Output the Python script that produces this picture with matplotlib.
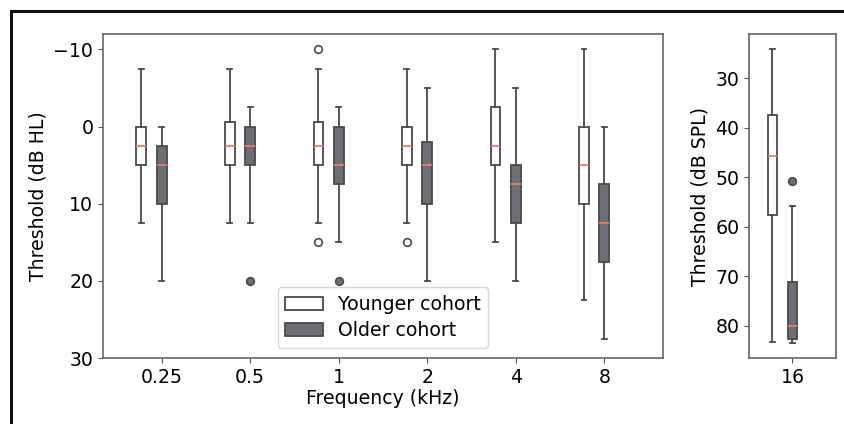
import matplotlib
matplotlib.use("Agg")
import matplotlib.pyplot as plt
from matplotlib.patches import Patch
from matplotlib.lines import Line2D

# thresholds: whislo, q1, med, q3, whishi, fliers
freqs = ["0.25", "0.5", "1", "2", "4", "8"]
young_lo = [12.5, 12.5, 12.5, 12.5, 15, 22.5]
young_q1 = [5, 5, 5, 5, 5, 10]
young_med = [2.5, 2.5, 2.5, 2.5, 2.5, 5]
young_q3 = [0, -0.6, -0.6, 0, -2.5, 0]
young_hi = [-7.5, -7.5, -7.5, -7.5, -10, -10]
young_fliers = [[], [], [-10, 15], [15], [], []]

old_lo = [20, 12.5, 15, 20, 20, 27.5]
old_q1 = [10, 5, 7.5, 10, 12.5, 17.5]
old_med = [5, 2.5, 5, 5, 7.5, 12.5]
old_q3 = [2.5, 0, 0, 2, 5, 7.5]
old_hi = [0, -2.5, -2.5, -5, -5, 0]
old_fliers = [[], [20], [20], [], [], []]

# 16 kHz in dB SPL
hf_label = "16"
hf_young = dict(whislo=24.1, q1=37.5, med=45.8, q3=57.7, whishi=83.3, fliers=[])
hf_old = dict(whislo=55.9, q1=71.2, med=80.0, q3=82.7, whishi=83.5, fliers=[50.7])

edge = "#4a4a4a"
grey = "#6e6f74"
med_col = "#f07a68"
offset = 0.23
width = 0.11
fs = 13.6


def stats(lo, q1, med, q3, hi, fl):
    return [dict(whislo=a, q1=b, med=c, q3=d, whishi=e, fliers=f)
            for a, b, c, d, e, f in zip(lo, q1, med, q3, hi, fl)]


def draw(ax, st, pos, fill, flier_face):
    ax.bxp(st, positions=pos, widths=width, patch_artist=True, manage_ticks=False,
           boxprops=dict(facecolor=fill, edgecolor=edge, linewidth=1.3),
           whiskerprops=dict(color=edge, linewidth=1.3),
           capprops=dict(color=edge, linewidth=1.3),
           medianprops=dict(color=med_col, linewidth=1.3),
           flierprops=dict(marker="o", markersize=5.5, markerfacecolor=flier_face,
                           markeredgecolor=edge, markeredgewidth=1.2))


plt.rcParams["font.family"] = "DejaVu Sans"
fig = plt.figure(figsize=(8.45, 4.24), dpi=100)

ax = fig.add_axes([103 / 845, 66 / 424, 560 / 845, 324 / 424])
ax2 = fig.add_axes([749 / 845, 66 / 424, 87 / 845, 324 / 424])

pos = list(range(1, len(freqs) + 1))
draw(ax, stats(young_lo, young_q1, young_med, young_q3, young_hi, young_fliers),
     [p - offset for p in pos], "white", "white")
draw(ax, stats(old_lo, old_q1, old_med, old_q3, old_hi, old_fliers),
     pos, grey, grey)
ax.set_xticks(pos)
ax.set_xticklabels(freqs)
ax.set_xlim(0.337, 6.663)
ax.set_ylim(30, -12)
ax.set_yticks([-10, 0, 10, 20, 30])
ax.set_xlabel("Frequency (kHz)", fontsize=fs, labelpad=2)
ax.set_ylabel("Threshold (dB HL)", fontsize=fs)

draw(ax2, [hf_young], [1 - offset], "white", "white")
draw(ax2, [hf_old], [1], grey, grey)
ax2.set_xticks([1])
ax2.set_xticklabels([hf_label])
ax2.set_xlim(0.5, 1.5)
ax2.set_ylim(86.5, 21.1)
ax2.set_yticks([30, 40, 50, 60, 70, 80])
ax2.set_ylabel("Threshold (dB SPL)", fontsize=fs)

for a in (ax, ax2):
    a.tick_params(labelsize=fs, color="#555555")
    for s in a.spines.values():
        s.set_color("#666666")
        s.set_linewidth(1.2)

handles = [Patch(facecolor="white", edgecolor=edge, linewidth=1.3, label="Younger cohort"),
           Patch(facecolor=grey, edgecolor=edge, linewidth=1.3, label="Older cohort")]
ax.legend(handles=handles, loc="lower center", bbox_to_anchor=(0.5, 0.031),
          borderaxespad=0, fontsize=fs, handlelength=2.0, borderpad=0.4,
          labelspacing=0.4)

# black frame along top and left of the picture
fig.add_artist(Line2D([11 / 845, 1], [1 - 11 / 424, 1 - 11 / 424], color="#111111", linewidth=2.2))
fig.add_artist(Line2D([11 / 845, 11 / 845], [0, 1 - 11 / 424], color="#111111", linewidth=2.2))

fig.savefig("out.png", dpi=100)
